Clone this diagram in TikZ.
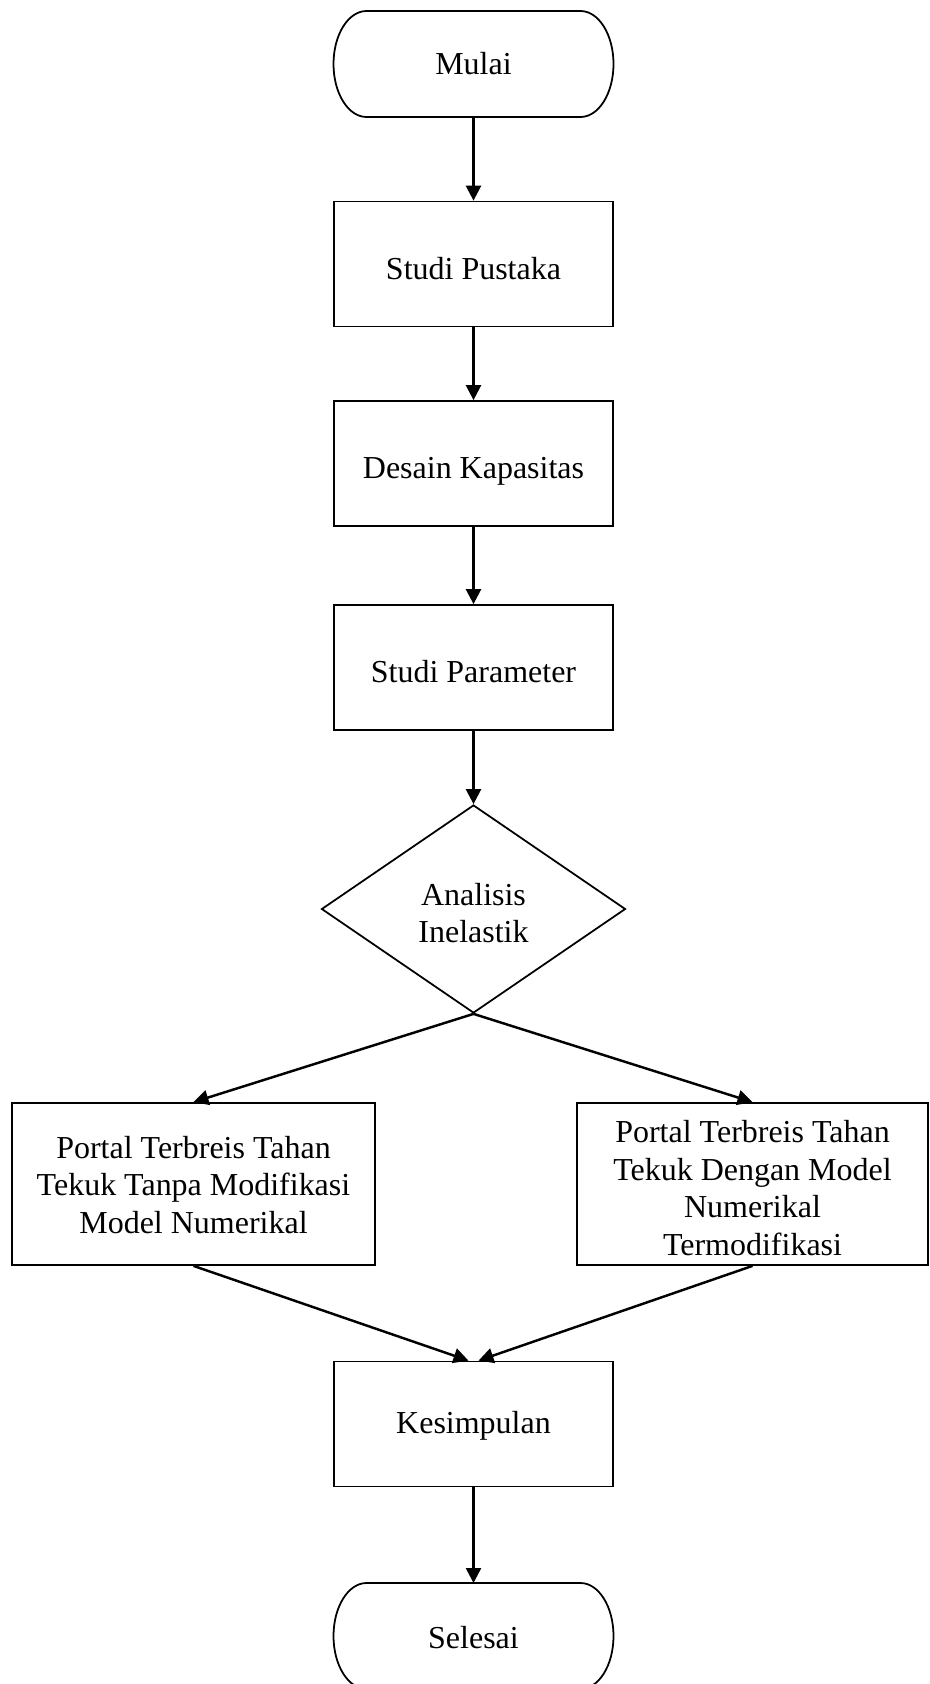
\documentclass[tikz,border=0pt]{standalone}
\usepackage{fontspec}
\setmainfont{Liberation Serif}
\usetikzlibrary{positioning,arrows.meta}
\usetikzlibrary{shapes.geometric}
\tikzset{every picture/.style={line width=1pt}}
\tikzset{
  terminal/.style={rectangle, minimum width=5.6cm, minimum height=2.12cm,
    inner sep=0pt, outer sep=0pt},
  proses/.style={draw, rectangle, minimum width=5.58cm, minimum height=2.5cm,
    inner sep=1pt, align=center, text height=0.75cm, text depth=0.15cm},
  keputusan/.style={draw, diamond, aspect=1.46, minimum width=6.08cm,
    minimum height=4.16cm, inner sep=1pt, align=center},
  panah/.style={line width=1.4pt, -{Triangle[length=0.3cm,width=0.3cm]}}
}

\begin{document}
\begin{tikzpicture}[font=\fontsize{18.2}{21.3}\selectfont]
\useasboundingbox (0,0) rectangle (18.58,-33.68);
\node[terminal, text height=0.55cm, text depth=0.15cm] (mulai) at (9.47,-1.28) {Mulai};
\node[proses] (pustaka) at (9.47,-5.28) {Studi Pustaka};
\node[proses] (desain) at (9.47,-9.27) {Desain Kapasitas};
\node[proses] (param) at (9.47,-13.35) {Studi Parameter};
\node[keputusan, text height=1.5cm, text depth=0.15cm] (analisis) at (9.47,-18.18) {Analisis\\Inelastik};
%
\node[proses, minimum width=7.26cm, minimum height=3.24cm,
  text height=2.11cm] (kiri) at (3.87,-23.68)
  {Portal Terbreis Tahan\\Tekuk Tanpa Modifikasi\\Model Numerikal};
\node[proses, minimum width=7.02cm, minimum height=3.24cm,
  text height=2.99cm] (kanan) at (15.05,-23.68)
  {Portal Terbreis Tahan\\Tekuk Dengan Model\\Numerikal\\Termodifikasi};
%
\node[proses, text height=0.51cm] (simpul) at (9.47,-28.48) {Kesimpulan};
\node[terminal, text height=0.63cm, text depth=0.15cm] (selesai) at (9.47,-32.72) {Selesai};
%
% ujung bulat
\foreach \t in {mulai,selesai}
  \draw ([xshift=0.66cm]\t.north west) -- ([xshift=-0.66cm]\t.north east)
    arc[start angle=90, end angle=-90, x radius=0.66cm, y radius=1.06cm]
    -- ([xshift=0.66cm]\t.south west)
    arc[start angle=270, end angle=90, x radius=0.66cm, y radius=1.06cm] -- cycle;
%
\draw[panah] (mulai) -- (pustaka);
\draw[panah] (pustaka) -- (desain);
\draw[panah] (desain) -- (param);
\draw[panah] (param) -- (analisis);
\draw[panah] (analisis.south) -- (kiri.north);
\draw[panah] (analisis.south) -- (kanan.north);
\draw[panah] (kiri.south) -- ([xshift=-0.1cm]simpul.north);
\draw[panah] (kanan.south) -- ([xshift=0.1cm]simpul.north);
\draw[panah] (simpul) -- (selesai);
\end{tikzpicture}
\end{document}
